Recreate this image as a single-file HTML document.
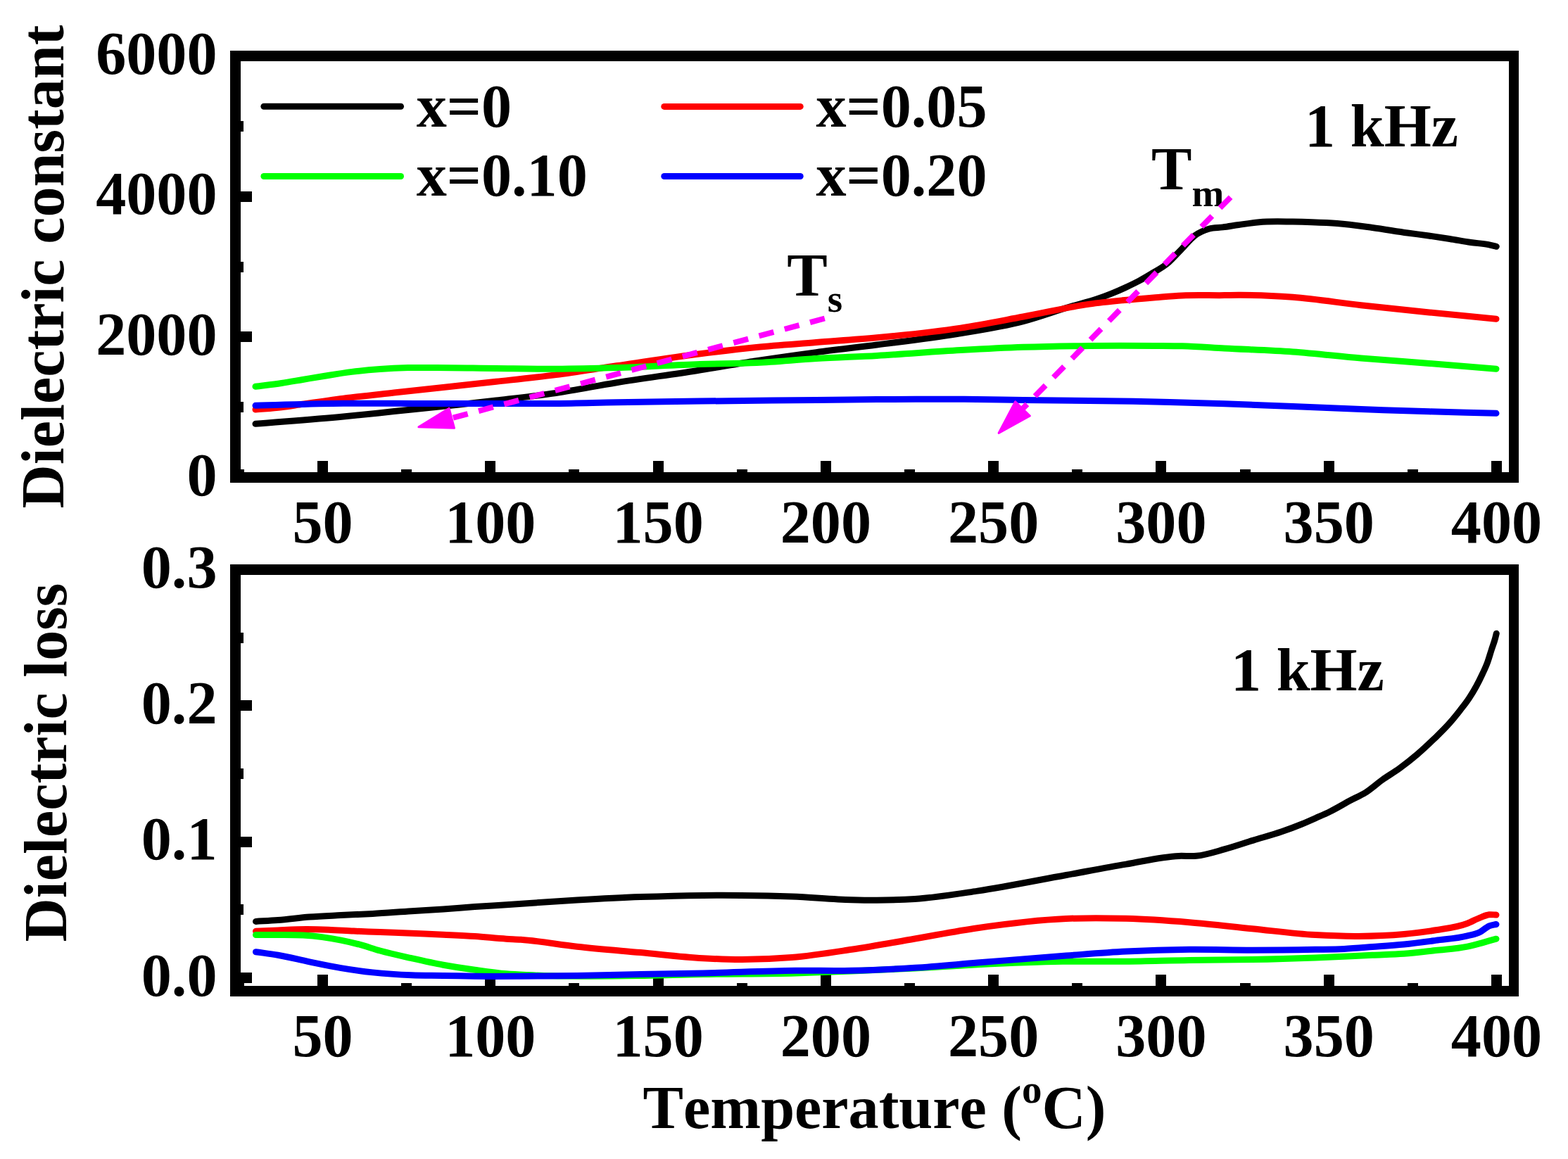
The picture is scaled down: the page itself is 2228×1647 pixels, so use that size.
<!DOCTYPE html>
<html><head><meta charset="utf-8"><title>Dielectric constant and loss vs temperature</title>
<style>
html,body{margin:0;padding:0;background:#fff;}
svg{display:block;}
text{font-family:"Liberation Serif","Times New Roman",serif;font-weight:bold;fill:#000;font-kerning:none;}
</style></head><body>
<svg width="2228" height="1647" viewBox="0 0 2228 1647">
<rect x="0" y="0" width="2228" height="1647" fill="#fff"/>

<path d="M327,72 H2158 V686 H327 Z M342,87 V671 H2144 V87 Z" fill="#000" fill-rule="evenodd"/>
<rect x="451" y="655" width="15" height="16" fill="#000"/>
<rect x="689" y="655" width="15" height="16" fill="#000"/>
<rect x="928" y="655" width="15" height="16" fill="#000"/>
<rect x="1166" y="655" width="15" height="16" fill="#000"/>
<rect x="1404" y="655" width="15" height="16" fill="#000"/>
<rect x="1642" y="655" width="15" height="16" fill="#000"/>
<rect x="1881" y="655" width="15" height="16" fill="#000"/>
<rect x="2119" y="655" width="15" height="16" fill="#000"/>
<rect x="334" y="667" width="13" height="4" fill="#000"/>
<rect x="570" y="667" width="15" height="4" fill="#000"/>
<rect x="808" y="667" width="15" height="4" fill="#000"/>
<rect x="1047" y="667" width="15" height="4" fill="#000"/>
<rect x="1285" y="667" width="15" height="4" fill="#000"/>
<rect x="1523" y="667" width="15" height="4" fill="#000"/>
<rect x="1762" y="667" width="15" height="4" fill="#000"/>
<rect x="2000" y="667" width="15" height="4" fill="#000"/>
<rect x="340" y="671" width="18" height="15" fill="#000"/>
<rect x="340" y="471" width="18" height="15" fill="#000"/>
<rect x="340" y="272" width="18" height="15" fill="#000"/>
<rect x="340" y="72" width="18" height="15" fill="#000"/>
<rect x="340" y="571" width="6" height="15" fill="#000"/>
<rect x="340" y="372" width="6" height="15" fill="#000"/>
<rect x="340" y="172" width="6" height="15" fill="#000"/>
<path d="M363.0,602.3 C404.67,598.87 446.33,595.97 488.0,592.0 C512.00,589.71 536.00,587.08 560.0,584.6 C590.00,581.49 620.00,578.49 650.0,575.2 C668.33,573.19 686.67,571.14 705.0,569.0 C733.33,565.69 761.67,562.68 790.0,558.5 C818.67,554.27 847.33,548.35 876.0,543.7 C914.00,537.54 952.00,532.71 990.0,526.7 C1018.33,522.22 1046.67,517.05 1075.0,512.7 C1103.33,508.35 1131.67,504.36 1160.0,500.6 C1188.67,496.79 1217.33,493.69 1246.0,490.0 C1284.00,485.11 1322.00,480.80 1360.0,474.5 C1391.33,469.30 1422.67,464.81 1454.0,456.6 C1476.00,450.84 1498.00,442.52 1520.0,436.0 C1533.23,432.08 1546.47,429.16 1559.7,424.6 C1566.30,422.32 1572.90,419.87 1579.5,417.2 C1586.07,414.54 1592.63,411.64 1599.2,408.6 C1605.80,405.54 1612.40,402.44 1619.0,398.9 C1625.57,395.37 1632.13,391.44 1638.7,387.4 C1645.30,383.34 1651.90,380.05 1658.5,374.6 C1665.07,369.17 1671.63,361.45 1678.2,354.8 C1684.80,348.12 1691.40,339.54 1698.0,334.6 C1704.57,329.69 1711.13,327.15 1717.7,325.2 C1724.30,323.24 1730.90,323.77 1737.5,322.9 C1745.00,321.91 1752.50,320.57 1760.0,319.5 C1769.67,318.12 1779.33,316.54 1789.0,315.7 C1805.00,314.32 1821.00,314.94 1837.0,315.1 C1846.00,315.19 1855.00,315.39 1864.0,315.7 C1876.00,316.11 1888.00,316.55 1900.0,317.5 C1916.67,318.82 1933.33,321.25 1950.0,323.5 C1966.67,325.75 1983.33,328.67 2000.0,331.0 C2010.00,332.40 2020.00,333.58 2030.0,335.0 C2040.00,336.42 2050.00,337.92 2060.0,339.5 C2070.00,341.08 2080.00,343.07 2090.0,344.5 C2098.33,345.69 2106.67,345.91 2115.0,347.6 C2118.77,348.37 2122.53,349.40 2126.3,350.3" fill="none" stroke="#000000" stroke-width="9" stroke-linecap="round" stroke-linejoin="round"/>
<path d="M363.0,582.0 C375.33,580.90 387.67,580.19 400.0,578.7 C410.00,577.49 420.00,575.74 430.0,574.3 C449.33,571.51 468.67,568.68 488.0,566.2 C512.00,563.12 536.00,560.68 560.0,558.0 C590.00,554.65 620.00,551.44 650.0,548.2 C668.33,546.22 686.67,544.32 705.0,542.3 C733.33,539.18 761.67,536.32 790.0,532.6 C818.67,528.83 847.33,523.99 876.0,519.8 C915.67,514.00 955.33,507.87 995.0,502.8 C1021.67,499.39 1048.33,496.05 1075.0,493.4 C1103.33,490.59 1131.67,488.85 1160.0,486.6 C1188.67,484.32 1217.33,482.50 1246.0,479.8 C1285.67,476.06 1325.33,472.16 1365.0,466.1 C1394.67,461.57 1424.33,455.50 1454.0,450.0 C1485.33,444.19 1516.67,436.44 1548.0,432.1 C1563.67,429.93 1579.33,428.37 1595.0,426.8 C1610.67,425.23 1626.33,423.95 1642.0,422.7 C1654.67,421.69 1667.33,420.50 1680.0,419.9 C1700.00,418.96 1720.00,419.85 1740.0,419.6 C1746.67,419.52 1753.33,419.33 1760.0,419.3 C1785.67,419.20 1811.33,420.40 1837.0,422.3 C1869.33,424.70 1901.67,430.20 1934.0,433.8 C1966.33,437.40 1998.67,440.64 2031.0,443.9 C2062.67,447.10 2094.33,450.10 2126.0,453.2" fill="none" stroke="#FF0000" stroke-width="9" stroke-linecap="round" stroke-linejoin="round"/>
<path d="M363.0,549.3 C375.33,547.70 387.67,546.35 400.0,544.5 C410.00,543.00 420.00,541.17 430.0,539.5 C440.00,537.83 450.00,536.11 460.0,534.5 C473.33,532.36 486.67,530.07 500.0,528.4 C513.33,526.73 526.67,525.47 540.0,524.5 C553.33,523.53 566.67,522.93 580.0,522.6 C593.33,522.27 606.67,522.47 620.0,522.5 C648.33,522.56 676.67,523.22 705.0,523.5 C733.33,523.78 761.67,524.36 790.0,524.2 C818.67,524.04 847.33,523.34 876.0,522.5 C915.67,521.33 955.33,518.62 995.0,517.4 C1021.67,516.58 1048.33,516.82 1075.0,515.6 C1103.33,514.30 1131.67,511.29 1160.0,509.6 C1188.67,507.89 1217.33,507.00 1246.0,505.4 C1285.67,503.18 1325.33,499.81 1365.0,497.6 C1394.67,495.95 1424.33,494.33 1454.0,493.3 C1485.33,492.21 1516.67,491.72 1548.0,491.4 C1579.33,491.08 1610.67,491.17 1642.0,491.4 C1654.67,491.49 1667.33,491.46 1680.0,491.8 C1700.00,492.34 1720.00,493.95 1740.0,495.0 C1772.33,496.70 1804.67,497.67 1837.0,500.0 C1869.33,502.33 1901.67,506.27 1934.0,509.0 C1966.33,511.73 1998.67,513.84 2031.0,516.4 C2062.67,518.91 2094.33,521.60 2126.0,524.2" fill="none" stroke="#00FF00" stroke-width="9" stroke-linecap="round" stroke-linejoin="round"/>
<path d="M363.0,576.3 C404.67,575.27 446.33,573.54 488.0,573.2 C512.00,573.00 536.00,573.24 560.0,573.3 C580.00,573.35 600.00,573.46 620.0,573.5 C648.33,573.56 676.67,573.50 705.0,573.5 C733.33,573.50 761.67,573.78 790.0,573.5 C818.67,573.22 847.33,572.30 876.0,571.8 C915.67,571.11 955.33,570.59 995.0,570.1 C1050.00,569.42 1105.00,569.06 1160.0,568.5 C1188.67,568.21 1217.33,567.81 1246.0,567.6 C1287.33,567.30 1328.67,567.02 1370.0,567.3 C1398.00,567.49 1426.00,568.05 1454.0,568.4 C1485.33,568.79 1516.67,569.08 1548.0,569.5 C1579.33,569.92 1610.67,570.22 1642.0,570.9 C1674.67,571.61 1707.33,572.58 1740.0,573.7 C1772.33,574.81 1804.67,576.30 1837.0,577.6 C1869.33,578.90 1901.67,580.30 1934.0,581.5 C1966.33,582.70 1998.67,583.83 2031.0,584.8 C2062.67,585.75 2094.33,586.47 2126.0,587.3" fill="none" stroke="#0000FF" stroke-width="9" stroke-linecap="round" stroke-linejoin="round"/>
<text x="458.5" y="771.0" font-size="86.2" text-anchor="middle">50</text>
<text x="696.8" y="771.0" font-size="86.2" text-anchor="middle">100</text>
<text x="935.1" y="771.0" font-size="86.2" text-anchor="middle">150</text>
<text x="1173.4" y="771.0" font-size="86.2" text-anchor="middle">200</text>
<text x="1411.6" y="771.0" font-size="86.2" text-anchor="middle">250</text>
<text x="1649.9" y="771.0" font-size="86.2" text-anchor="middle">300</text>
<text x="1888.2" y="771.0" font-size="86.2" text-anchor="middle">350</text>
<text x="2126.5" y="771.0" font-size="86.2" text-anchor="middle">400</text>
<text x="308.5" y="703.7" font-size="86.2" text-anchor="end">0</text>
<text x="308.5" y="504.0" font-size="86.2" text-anchor="end">2000</text>
<text x="308.5" y="304.4" font-size="86.2" text-anchor="end">4000</text>
<text x="308.5" y="104.7" font-size="86.2" text-anchor="end">6000</text>
<path d="M327,802 H2158 V1416 H327 Z M342,817 V1401 H2144 V817 Z" fill="#000" fill-rule="evenodd"/>
<rect x="451" y="1385" width="15" height="16" fill="#000"/>
<rect x="689" y="1385" width="15" height="16" fill="#000"/>
<rect x="928" y="1385" width="15" height="16" fill="#000"/>
<rect x="1166" y="1385" width="15" height="16" fill="#000"/>
<rect x="1404" y="1385" width="15" height="16" fill="#000"/>
<rect x="1642" y="1385" width="15" height="16" fill="#000"/>
<rect x="1881" y="1385" width="15" height="16" fill="#000"/>
<rect x="2119" y="1385" width="15" height="16" fill="#000"/>
<rect x="334" y="1397" width="13" height="4" fill="#000"/>
<rect x="570" y="1397" width="15" height="4" fill="#000"/>
<rect x="808" y="1397" width="15" height="4" fill="#000"/>
<rect x="1047" y="1397" width="15" height="4" fill="#000"/>
<rect x="1285" y="1397" width="15" height="4" fill="#000"/>
<rect x="1523" y="1397" width="15" height="4" fill="#000"/>
<rect x="1762" y="1397" width="15" height="4" fill="#000"/>
<rect x="2000" y="1397" width="15" height="4" fill="#000"/>
<rect x="340" y="1382" width="18" height="15" fill="#000"/>
<rect x="340" y="1189" width="18" height="15" fill="#000"/>
<rect x="340" y="995" width="18" height="15" fill="#000"/>
<rect x="340" y="802" width="18" height="15" fill="#000"/>
<rect x="340" y="1285" width="6" height="15" fill="#000"/>
<rect x="340" y="1092" width="6" height="15" fill="#000"/>
<rect x="340" y="899" width="6" height="15" fill="#000"/>
<path d="M363.5,1309.4 C373.97,1308.80 384.43,1308.38 394.9,1307.6 C409.87,1306.48 424.83,1304.27 439.8,1303.1 C454.73,1301.94 469.67,1301.38 484.6,1300.6 C499.57,1299.82 514.53,1299.25 529.5,1298.4 C547.97,1297.35 566.43,1295.87 584.9,1294.7 C599.87,1293.76 614.83,1293.02 629.8,1292.0 C644.73,1290.98 659.67,1289.65 674.6,1288.6 C689.57,1287.55 704.53,1286.67 719.5,1285.7 C753.00,1283.53 786.50,1281.02 820.0,1279.1 C850.00,1277.38 880.00,1275.72 910.0,1274.6 C939.67,1273.49 969.33,1272.68 999.0,1272.4 C1017.00,1272.23 1035.00,1272.23 1053.0,1272.4 C1077.00,1272.63 1101.00,1273.10 1125.0,1274.0 C1153.33,1275.06 1181.67,1277.96 1210.0,1278.7 C1222.00,1279.01 1234.00,1279.25 1246.0,1279.2 C1264.00,1279.12 1282.00,1278.72 1300.0,1277.5 C1329.67,1275.48 1359.33,1270.53 1389.0,1266.1 C1431.00,1259.83 1473.00,1251.08 1515.0,1243.5 C1543.33,1238.39 1571.67,1232.85 1600.0,1228.1 C1625.00,1223.90 1650.00,1217.45 1675.0,1216.4 C1683.33,1216.05 1691.67,1217.08 1700.0,1216.3 C1713.47,1215.04 1726.93,1210.40 1740.4,1206.7 C1753.87,1203.00 1767.33,1198.25 1780.8,1194.1 C1794.27,1189.95 1807.73,1186.45 1821.2,1181.8 C1830.80,1178.48 1840.40,1174.94 1850.0,1171.0 C1856.67,1168.26 1863.33,1165.27 1870.0,1162.3 C1876.67,1159.33 1883.33,1156.48 1890.0,1153.2 C1900.00,1148.28 1910.00,1142.08 1920.0,1136.8 C1926.67,1133.28 1933.33,1130.66 1940.0,1126.5 C1948.10,1121.44 1956.20,1113.87 1964.3,1108.1 C1972.40,1102.33 1980.50,1097.78 1988.6,1091.9 C1996.70,1086.02 2004.80,1079.70 2012.9,1072.8 C2020.97,1065.93 2029.03,1058.41 2037.1,1050.6 C2044.73,1043.20 2052.37,1036.00 2060.0,1027.3 C2065.00,1021.60 2070.00,1015.45 2075.0,1009.0 C2079.20,1003.58 2083.40,998.40 2087.6,992.0 C2091.00,986.82 2094.40,981.28 2097.8,975.0 C2100.63,969.76 2103.47,964.12 2106.3,958.0 C2108.77,952.67 2111.23,947.88 2113.7,941.0 C2115.50,935.98 2117.30,929.62 2119.1,924.0 C2120.93,918.28 2122.77,913.94 2124.6,907.0 C2125.17,904.85 2125.73,902.47 2126.3,900.2" fill="none" stroke="#000000" stroke-width="9" stroke-linecap="round" stroke-linejoin="round"/>
<path d="M363.5,1323.3 C373.97,1322.83 384.43,1322.31 394.9,1321.9 C408.37,1321.37 421.83,1320.64 435.3,1320.6 C445.77,1320.57 456.23,1320.83 466.7,1321.2 C478.67,1321.62 490.63,1322.56 502.6,1323.1 C515.07,1323.67 527.53,1324.02 540.0,1324.5 C554.97,1325.08 569.93,1325.67 584.9,1326.3 C599.87,1326.93 614.83,1327.58 629.8,1328.3 C644.73,1329.02 659.67,1329.62 674.6,1330.6 C689.57,1331.58 704.53,1333.27 719.5,1334.2 C726.33,1334.62 733.17,1334.84 740.0,1335.3 C766.67,1337.11 793.33,1342.28 820.0,1345.2 C850.00,1348.48 880.00,1350.84 910.0,1353.6 C939.67,1356.33 969.33,1360.06 999.0,1361.7 C1017.00,1362.69 1035.00,1363.47 1053.0,1363.5 C1077.00,1363.54 1101.00,1362.59 1125.0,1360.6 C1153.33,1358.25 1181.67,1353.58 1210.0,1349.3 C1240.00,1344.77 1270.00,1339.13 1300.0,1334.0 C1329.67,1328.93 1359.33,1322.98 1389.0,1318.7 C1431.00,1312.65 1473.00,1307.33 1515.0,1305.5 C1543.33,1304.26 1571.67,1304.51 1600.0,1305.3 C1630.00,1306.14 1660.00,1308.28 1690.0,1310.7 C1719.67,1313.09 1749.33,1316.73 1779.0,1319.7 C1809.00,1322.70 1839.00,1326.87 1869.0,1328.6 C1889.33,1329.77 1909.67,1330.53 1930.0,1330.4 C1951.67,1330.26 1973.33,1329.52 1995.0,1327.5 C2010.00,1326.10 2025.00,1324.35 2040.0,1321.8 C2055.00,1319.25 2070.00,1317.94 2085.0,1312.2 C2091.00,1309.91 2097.00,1306.38 2103.0,1304.1 C2107.33,1302.45 2111.67,1300.35 2116.0,1299.8 C2119.33,1299.38 2122.67,1300.00 2126.0,1300.1" fill="none" stroke="#FF0000" stroke-width="9" stroke-linecap="round" stroke-linejoin="round"/>
<path d="M363.5,1328.5 C373.97,1328.50 384.43,1328.42 394.9,1328.5 C406.87,1328.59 418.83,1328.38 430.8,1329.1 C439.77,1329.64 448.73,1330.43 457.7,1331.6 C466.67,1332.77 475.63,1334.30 484.6,1336.1 C493.60,1337.90 502.60,1340.00 511.6,1342.4 C521.07,1344.93 530.53,1348.37 540.0,1351.0 C554.97,1355.16 569.93,1358.33 584.9,1361.7 C599.87,1365.07 614.83,1368.45 629.8,1371.2 C644.73,1373.95 659.67,1376.10 674.6,1378.2 C689.57,1380.30 704.53,1382.52 719.5,1383.8 C729.67,1384.67 739.83,1385.12 750.0,1385.6 C761.67,1386.15 773.33,1386.53 785.0,1386.8 C800.00,1387.15 815.00,1387.16 830.0,1387.2 C856.67,1387.28 883.33,1386.99 910.0,1386.6 C939.67,1386.17 969.33,1385.15 999.0,1384.6 C1042.67,1383.79 1086.33,1384.10 1130.0,1382.9 C1156.67,1382.17 1183.33,1381.07 1210.0,1380.0 C1240.00,1378.80 1270.00,1377.54 1300.0,1376.0 C1329.67,1374.47 1359.33,1372.27 1389.0,1370.8 C1429.33,1368.81 1469.67,1366.94 1510.0,1366.3 C1540.00,1365.82 1570.00,1366.60 1600.0,1366.3 C1630.00,1366.00 1660.00,1364.95 1690.0,1364.5 C1719.67,1364.05 1749.33,1364.18 1779.0,1363.6 C1809.00,1363.02 1839.00,1362.13 1869.0,1361.0 C1896.00,1359.98 1923.00,1358.51 1950.0,1357.3 C1965.00,1356.63 1980.00,1356.43 1995.0,1355.3 C2010.00,1354.17 2025.00,1352.20 2040.0,1350.5 C2055.00,1348.80 2070.00,1348.29 2085.0,1345.1 C2091.00,1343.82 2097.00,1342.22 2103.0,1340.6 C2107.33,1339.43 2111.67,1338.10 2116.0,1336.9 C2119.33,1335.98 2122.67,1335.10 2126.0,1334.2" fill="none" stroke="#00FF00" stroke-width="9" stroke-linecap="round" stroke-linejoin="round"/>
<path d="M363.5,1352.7 C373.97,1354.20 384.43,1355.40 394.9,1357.2 C409.87,1359.78 424.83,1363.73 439.8,1366.8 C454.73,1369.86 469.67,1373.09 484.6,1375.6 C499.57,1378.12 514.53,1380.27 529.5,1381.9 C547.97,1383.91 566.43,1385.08 584.9,1385.8 C599.87,1386.38 614.83,1386.15 629.8,1386.4 C644.73,1386.65 659.67,1387.12 674.6,1387.3 C696.40,1387.56 718.20,1387.41 740.0,1387.3 C766.67,1387.17 793.33,1386.81 820.0,1386.4 C850.00,1385.94 880.00,1385.19 910.0,1384.6 C939.67,1384.02 969.33,1383.57 999.0,1382.9 C1042.67,1381.92 1086.33,1379.79 1130.0,1379.3 C1156.67,1379.00 1183.33,1379.76 1210.0,1379.2 C1240.00,1378.57 1270.00,1377.17 1300.0,1375.3 C1329.67,1373.45 1359.33,1370.49 1389.0,1368.1 C1431.00,1364.72 1473.00,1361.13 1515.0,1358.0 C1543.33,1355.89 1571.67,1353.44 1600.0,1352.0 C1630.00,1350.47 1660.00,1349.59 1690.0,1349.3 C1719.67,1349.01 1749.33,1350.20 1779.0,1350.2 C1809.00,1350.20 1839.00,1349.85 1869.0,1349.3 C1882.67,1349.05 1896.33,1349.03 1910.0,1348.4 C1923.33,1347.78 1936.67,1346.60 1950.0,1345.6 C1965.00,1344.48 1980.00,1343.53 1995.0,1342.0 C2010.00,1340.47 2025.00,1338.42 2040.0,1336.4 C2055.00,1334.38 2070.00,1333.73 2085.0,1329.9 C2091.00,1328.37 2097.00,1327.59 2103.0,1324.5 C2107.33,1322.27 2111.67,1317.62 2116.0,1315.8 C2119.33,1314.40 2122.67,1314.27 2126.0,1313.5" fill="none" stroke="#0000FF" stroke-width="9" stroke-linecap="round" stroke-linejoin="round"/>
<text x="458.5" y="1501.0" font-size="86.2" text-anchor="middle">50</text>
<text x="696.8" y="1501.0" font-size="86.2" text-anchor="middle">100</text>
<text x="935.1" y="1501.0" font-size="86.2" text-anchor="middle">150</text>
<text x="1173.4" y="1501.0" font-size="86.2" text-anchor="middle">200</text>
<text x="1411.6" y="1501.0" font-size="86.2" text-anchor="middle">250</text>
<text x="1649.9" y="1501.0" font-size="86.2" text-anchor="middle">300</text>
<text x="1888.2" y="1501.0" font-size="86.2" text-anchor="middle">350</text>
<text x="2126.5" y="1501.0" font-size="86.2" text-anchor="middle">400</text>
<text x="308.5" y="1414.7" font-size="86.2" text-anchor="end">0.0</text>
<text x="308.5" y="1221.4" font-size="86.2" text-anchor="end">0.1</text>
<text x="308.5" y="1028.0" font-size="86.2" text-anchor="end">0.2</text>
<text x="308.5" y="834.7" font-size="86.2" text-anchor="end">0.3</text>
<line x1="374.9" y1="151.3" x2="569.5" y2="151.3" stroke="#000000" stroke-width="9" stroke-linecap="round"/>
<text x="591.7" y="179.5" font-size="86.2">x=0</text>
<line x1="374.9" y1="250.5" x2="569.5" y2="250.5" stroke="#00FF00" stroke-width="9" stroke-linecap="round"/>
<text x="591.7" y="278.0" font-size="86.2">x=0.10</text>
<line x1="943.8" y1="151.4" x2="1137.2" y2="151.4" stroke="#FF0000" stroke-width="9" stroke-linecap="round"/>
<text x="1159.5" y="179.5" font-size="86.2">x=0.05</text>
<line x1="943.8" y1="250.5" x2="1137.2" y2="250.5" stroke="#0000FF" stroke-width="9" stroke-linecap="round"/>
<text x="1159.5" y="278.0" font-size="86.2">x=0.20</text>
<text x="1854.1" y="207.9" font-size="86.2" xml:space="preserve">1 kHz</text>
<text x="1749" y="980.8" font-size="86.2" xml:space="preserve">1 kHz</text>
<text x="1635.9" y="268.9" font-size="86.2">T<tspan font-size="55" dy="24">m</tspan></text>
<text x="1118.2" y="419.9" font-size="86.2">T<tspan font-size="55" dy="23">s</tspan></text>
<line x1="1748.6" y1="280.2" x2="1450.2" y2="583.7" stroke="#FF00FF" stroke-width="8" stroke-dasharray="21.5 16"/>
<polygon points="1419.1,615.4 1442.7,570.7 1463.4,591.0" fill="#FF00FF" stroke="#FF00FF" stroke-width="3" stroke-linejoin="round"/>
<line x1="1171.8" y1="452.5" x2="637.9" y2="595.3" stroke="#FF00FF" stroke-width="8" stroke-dasharray="21.5 16"/>
<polygon points="594.9,606.8 638.1,580.3 645.5,608.3" fill="#FF00FF" stroke="#FF00FF" stroke-width="3" stroke-linejoin="round"/>
<text transform="translate(89.5,379) rotate(-90)" font-size="86.2" text-anchor="middle">Dielectric constant</text>
<text transform="translate(93.6,1338.4) rotate(-90)" font-size="86.2">Dielectric loss</text>
<text x="913.6" y="1602.8" font-size="86.2">Temperature (<tspan font-size="57" dy="-36">o</tspan><tspan dy="36">C)</tspan></text>
</svg>
</body></html>
